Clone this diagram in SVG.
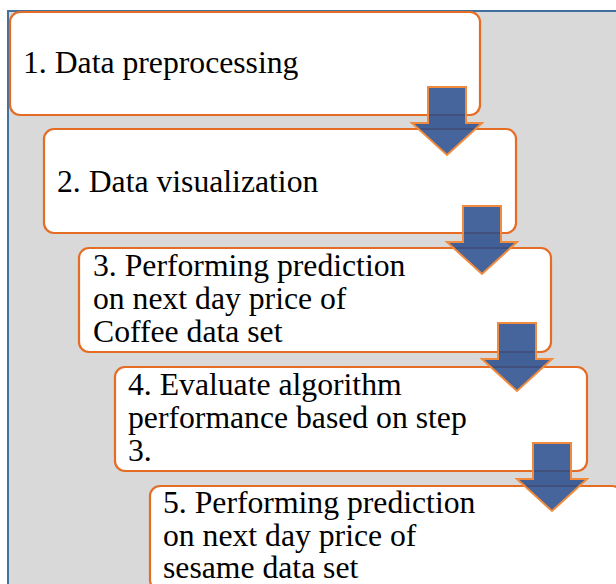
<svg xmlns="http://www.w3.org/2000/svg" width="616" height="584" viewBox="0 0 616 584">
  <style>
    .box { fill: #ffffff; stroke: #e46c25; stroke-width: 2.2; }
    .lbl { font-size: 31.7px; fill: #000000; }
    .arrow { fill: #284c8c; fill-opacity: 0.86; stroke: #f08a3c; stroke-width: 2; stroke-linejoin: miter; }
  </style>
  <defs>
    <!-- block arrow pointing down, origin at top centre of the shaft -->
    <path id="downArrow" d="M-19,0 H19 V36 H35 L0,68 L-35,36 H-19 Z"/>
  </defs>

  <!-- background panel -->
  <rect x="8" y="11" width="630" height="600" fill="#d9d9d9" stroke="#41719c" stroke-width="2"/>

  <g font-family="Liberation Serif, Tinos, DejaVu Serif, serif">
    <g id="step1">
      <rect class="box" x="10" y="12" width="470" height="103" rx="10"/>
      <text class="lbl" x="23" y="73">1. Data preprocessing</text>
    </g>

    <g id="step2">
      <rect class="box" x="44" y="129" width="472" height="104" rx="10"/>
      <text class="lbl" x="57" y="192">2. Data visualization</text>
    </g>

    <g id="step3">
      <rect class="box" x="79" y="248" width="472" height="104" rx="10"/>
      <text class="lbl" x="93" y="276">3. Performing prediction</text>
      <text class="lbl" x="93" y="309">on next day price of</text>
      <text class="lbl" x="93" y="342">Coffee data set</text>
    </g>

    <g id="step4">
      <rect class="box" x="115" y="367" width="472" height="104" rx="10"/>
      <text class="lbl" x="128" y="395">4. Evaluate algorithm</text>
      <text class="lbl" x="128" y="428">performance based on step</text>
      <text class="lbl" x="128" y="461">3.</text>
    </g>

    <g id="step5">
      <rect class="box" x="150" y="486" width="472" height="104" rx="10"/>
      <text class="lbl" x="163" y="513">5. Performing prediction</text>
      <text class="lbl" x="163" y="546">on next day price of</text>
      <text class="lbl" x="163" y="578">sesame data set</text>
    </g>
  </g>

  <g id="connectors">
    <use href="#downArrow" class="arrow" transform="translate(447,87)"/>
    <use href="#downArrow" class="arrow" transform="translate(482,206)"/>
    <use href="#downArrow" class="arrow" transform="translate(517,323)"/>
    <use href="#downArrow" class="arrow" transform="translate(552,443)"/>
  </g>
</svg>
